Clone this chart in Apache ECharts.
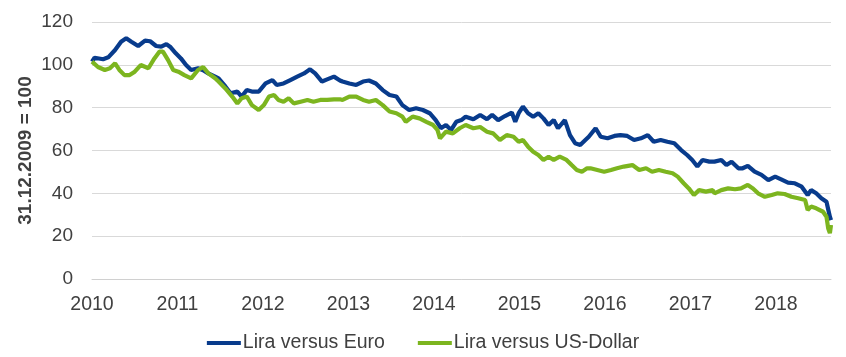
<!DOCTYPE html>
<html>
<head>
<meta charset="utf-8">
<script src="https://cdn.jsdelivr.net/npm/echarts@6/dist/echarts.min.js"></script>
<style>
html,body{margin:0;padding:0;background:#fff;}
#chart{width:846px;height:357px;}
</style>
</head>
<body>
<div id="chart"></div>
<script>
const seriesNames = ['Lira versus Euro', 'Lira versus US-Dollar'];
const yearTicks = [2010, 2011, 2012, 2013, 2014, 2015, 2016, 2017, 2018];
const yAxisTitle = '31.12.2009 = 100';

const euroYears = [2010.00,2010.03,2010.13,2010.19,2010.27,2010.34,2010.40,2010.46,2010.54,2010.62,2010.68,2010.75,2010.81,2010.87,2010.92,2010.98,
2011.04,2011.10,2011.16,2011.24,2011.30,2011.36,2011.44,2011.48,2011.56,2011.62,2011.70,2011.75,2011.81,2011.87,2011.95,
2012.03,2012.11,2012.16,2012.24,2012.32,2012.40,2012.48,2012.55,2012.61,2012.69,2012.75,2012.83,2012.90,2012.93,
2013.01,2013.09,2013.17,2013.24,2013.32,2013.40,2013.48,2013.56,2013.63,2013.71,2013.79,2013.87,2013.95,
2014.02,2014.08,2014.14,2014.20,2014.26,2014.32,2014.37,2014.46,2014.54,2014.62,2014.68,2014.75,2014.83,2014.91,2014.95,2014.99,
2015.04,2015.10,2015.16,2015.22,2015.28,2015.34,2015.40,2015.45,2015.53,2015.59,2015.65,2015.71,2015.77,2015.81,2015.89,2015.95,
2016.03,2016.11,2016.18,2016.26,2016.34,2016.42,2016.50,2016.57,2016.65,2016.73,2016.81,2016.89,2016.96,
2017.02,2017.08,2017.14,2017.22,2017.28,2017.36,2017.42,2017.48,2017.56,2017.61,2017.67,2017.75,2017.83,2017.91,2017.99,
2018.06,2018.14,2018.22,2018.30,2018.37,2018.41,2018.47,2018.53,2018.59,2018.63,2018.643];
const euroValues = [101.5,103.3,102.6,103.5,106.9,110.8,112.4,110.8,108.8,111.3,111.0,108.8,108.5,109.7,108.2,105.4,
103.0,99.9,97.6,98.4,97.5,96.0,94.5,93.7,89.9,86.7,87.5,85.2,88.2,87.5,87.5,
91.3,92.9,90.6,91.3,92.9,94.5,96.0,97.9,96.0,92.2,93.2,94.5,92.7,92.2,
91.3,90.6,92.2,92.7,91.3,88.2,85.9,85.2,81.2,78.9,79.7,78.9,77.4,
74.2,70.4,71.9,69.6,73.4,74.2,75.8,74.6,76.6,74.6,76.6,74.2,76.1,77.7,73.4,77.4,
80.5,77.4,75.8,77.4,75.0,71.9,74.2,70.4,74.2,67.2,63.4,62.6,64.9,66.4,70.4,66.4,
65.7,66.8,67.2,66.8,64.9,65.7,67.2,64.1,64.9,64.1,63.4,60.2,57.9,
55.6,52.5,55.6,54.8,54.8,55.6,53.2,54.8,51.7,51.7,52.8,50.1,48.6,46.2,47.8,
46.5,45.0,44.7,43.1,39.2,41.5,40.0,37.7,36.1,29.1,27.5];

const usdYears = [2010.00,2010.01,2010.07,2010.15,2010.21,2010.27,2010.32,2010.38,2010.44,2010.50,2010.57,2010.66,2010.73,2010.79,2010.83,2010.89,2010.95,
2011.01,2011.08,2011.16,2011.24,2011.30,2011.36,2011.44,2011.48,2011.56,2011.64,2011.70,2011.75,2011.81,2011.87,2011.95,
2012.01,2012.07,2012.13,2012.18,2012.24,2012.30,2012.36,2012.44,2012.52,2012.59,2012.67,2012.75,2012.83,2012.90,2012.93,
2013.01,2013.09,2013.17,2013.24,2013.32,2013.40,2013.48,2013.56,2013.63,2013.67,2013.75,2013.83,2013.91,2013.99,
2014.04,2014.07,2014.14,2014.22,2014.30,2014.37,2014.46,2014.54,2014.62,2014.69,2014.77,2014.85,2014.93,2014.99,
2015.04,2015.10,2015.16,2015.22,2015.28,2015.34,2015.40,2015.47,2015.55,2015.61,2015.67,2015.73,2015.79,2015.83,2015.91,2015.99,
2016.07,2016.14,2016.22,2016.32,2016.40,2016.48,2016.55,2016.63,2016.71,2016.79,2016.85,2016.92,2016.98,
2017.04,2017.10,2017.18,2017.26,2017.28,2017.36,2017.44,2017.52,2017.59,2017.67,2017.73,2017.79,2017.87,2017.95,
2018.02,2018.10,2018.18,2018.26,2018.34,2018.37,2018.41,2018.47,2018.55,2018.59,2018.61,2018.63,2018.643];
const usdValues = [101.5,102.2,99.0,97.6,98.4,100.7,97.6,95.2,95.2,96.8,99.9,98.4,103.0,106.2,106.2,102.2,97.6,
96.8,95.2,93.7,97.6,99.0,96.0,93.7,92.2,89.0,85.2,82.0,84.4,85.2,81.2,78.9,
81.2,85.2,85.9,83.6,82.8,84.4,82.0,82.8,83.6,82.8,83.6,83.6,83.9,83.9,83.6,
85.2,85.2,83.6,82.8,83.6,81.2,78.2,77.4,75.8,73.4,75.8,75.0,73.4,71.9,
69.6,65.7,68.8,68.0,70.4,71.9,70.4,71.0,68.8,68.0,64.9,67.2,66.4,64.1,
64.9,61.8,59.4,57.9,55.6,57.1,55.6,57.1,55.6,53.2,50.9,50.1,51.7,51.7,50.9,50.1,
50.9,51.7,52.5,53.2,50.9,51.7,50.1,50.9,50.1,49.4,47.8,44.7,42.3,
39.2,41.5,40.8,41.5,40.0,41.5,42.3,41.9,42.3,43.9,42.3,40.0,38.4,39.2,
40.0,39.7,38.4,37.7,36.9,32.2,33.8,33.0,31.4,29.1,23.7,21.4,25.2];

const toPairs = (xs, ys) => xs.map((x, i) => [x, ys[i]]);

const chart = echarts.init(document.getElementById('chart'), null, {renderer: 'canvas'});
const font = '"Liberation Sans", Arial, sans-serif';
chart.setOption({
  animation: false,
  backgroundColor: '#ffffff',
  grid: {left: 92, right: 15, top: 22, bottom: 78, containLabel: false},
  legend: {
    data: seriesNames,
    left: 'center',
    top: 328,
    icon: 'rect',
    itemWidth: 34,
    itemHeight: 4,
    itemGap: 33,
    textStyle: {fontFamily: font, fontSize: 19.5, color: '#404040', padding: [0, 0, 0, -3]}
  },
  xAxis: {
    type: 'value',
    min: yearTicks[0],
    max: 2018.643,
    interval: 1,
    axisLine: {show: true, lineStyle: {color: '#d0d0d0', width: 1}},
    axisTick: {show: false},
    splitLine: {show: false},
    axisLabel: {
      fontFamily: font, fontSize: 19.5, color: '#404040', margin: 16,
      formatter: v => yearTicks.indexOf(Math.round(v * 1000) / 1000) >= 0 ? String(v) : ''
    }
  },
  yAxis: {
    type: 'value',
    min: 0,
    max: 120,
    interval: 20,
    name: yAxisTitle,
    nameLocation: 'middle',
    nameGap: 57,
    nameMoveOverlap: false,
    nameTextStyle: {fontFamily: font, fontSize: 19, fontWeight: 'bold', color: '#404040'},
    axisLine: {show: false},
    axisTick: {show: false},
    splitLine: {lineStyle: {color: '#d9d9d9', width: 1}},
    axisLabel: {fontFamily: font, fontSize: 19, color: '#404040', margin: 19}
  },
  series: [
    {
      name: seriesNames[0], type: 'line', data: toPairs(euroYears, euroValues),
      symbol: 'none', showSymbol: false,
      lineStyle: {color: '#083b8c', width: 4.2}, itemStyle: {color: '#083b8c'}
    },
    {
      name: seriesNames[1], type: 'line', data: toPairs(usdYears, usdValues),
      symbol: 'none', showSymbol: false,
      lineStyle: {color: '#7cb51f', width: 4.2}, itemStyle: {color: '#7cb51f'}
    }
  ]
});
</script>
</body>
</html>
